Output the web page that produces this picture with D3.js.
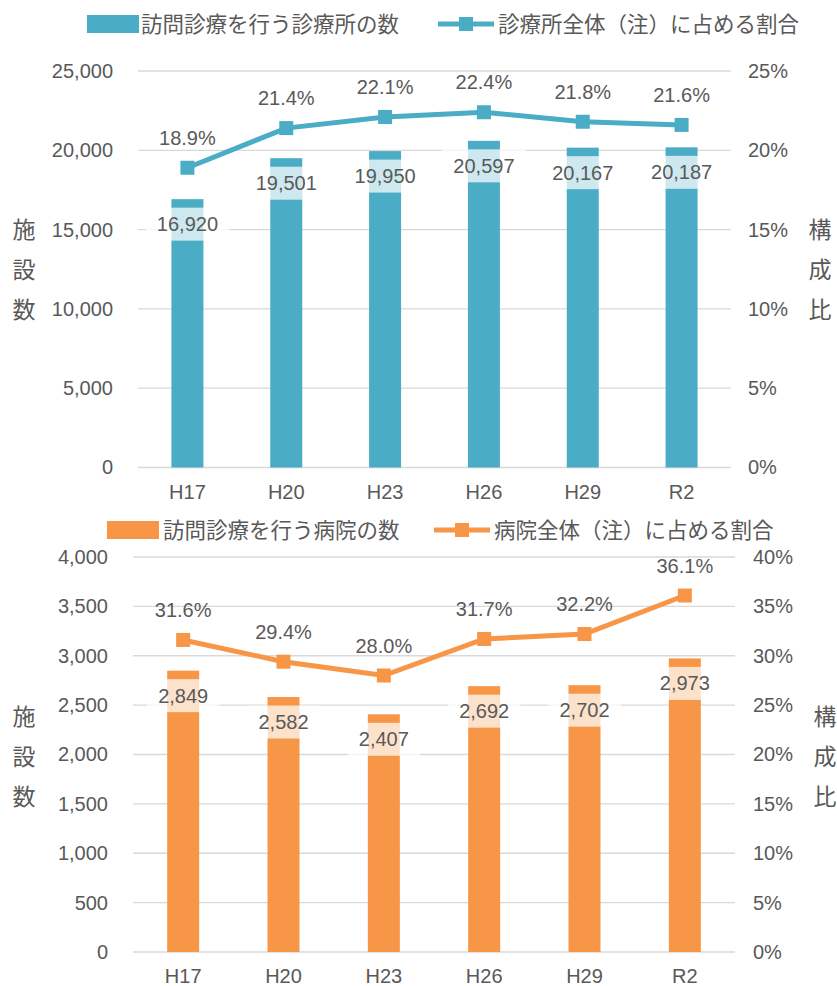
<!DOCTYPE html>
<html>
<head>
<meta charset="utf-8">
<script src="https://cdn.jsdelivr.net/npm/d3@7"></script>
<style>
  body { margin:0; background:#fff; }
  text { fill:#595959; }
</style>
</head>
<body>
<div id="chart"></div>
<script>
// categories / values
var years = ["H17", "H20", "H23", "H26", "H29", "R2"];

var clinicCount = [16920, 19501, 19950, 20597, 20167, 20187];
var clinicShare = [18.9, 21.4, 22.1, 22.4, 21.8, 21.6];

var hospCount = [2849, 2582, 2407, 2692, 2702, 2973];
var hospShare = [31.6, 29.4, 28.0, 31.7, 32.2, 36.1];

var clinicTicks = [0, 5000, 10000, 15000, 20000, 25000];
var clinicPctTicks = [0, 5, 10, 15, 20, 25];
var hospTicks = [0, 500, 1000, 1500, 2000, 2500, 3000, 3500, 4000];
var hospPctTicks = [0, 5, 10, 15, 20, 25, 30, 35, 40];

var numFont = "'Liberation Sans', Arial, sans-serif";
var jpFont = "'Noto Sans CJK JP', sans-serif";

var svg = d3.select("#chart")
            .append("svg")
            .attr("width", 837)
            .attr("height", 986);

var fmt = d3.format(",");

function drawPanel(p) {
    var g = svg.append("g");

    var x = d3.scaleBand().domain(years).range([p.left, p.right]);
    var y = d3.scaleLinear().domain([0, p.yMax]).range([p.bottom, p.top]);
    var y2 = d3.scaleLinear().domain([0, p.pMax]).range([p.bottom, p.top]);

    // gridlines
    g.selectAll(".grid").data(p.ticks).enter()
        .append("line")
        .attr("x1", p.left).attr("x2", p.right)
        .attr("y1", d => y(d)).attr("y2", d => y(d))
        .attr("stroke", "#d9d9d9").attr("stroke-width", 1.3);

    // left axis
    var yAxis = d3.axisLeft(y).tickValues(p.ticks).tickFormat(fmt).tickSize(0).tickPadding(0);
    var ga = g.append("g").attr("transform", "translate(" + p.leftLabelX + ",0)").call(yAxis);
    ga.select(".domain").remove();
    ga.selectAll("text").style("font-family", numFont).style("font-size", "20px").attr("fill", "#595959");

    // right axis
    var y2Axis = d3.axisRight(y2).tickValues(p.pTicks).tickFormat(d => d + "%").tickSize(0).tickPadding(0);
    var gb = g.append("g").attr("transform", "translate(" + p.rightLabelX + ",0)").call(y2Axis);
    gb.select(".domain").remove();
    gb.selectAll("text").style("font-family", numFont).style("font-size", "20px").attr("fill", "#595959");

    // bottom axis labels
    var xAxis = d3.axisBottom(x).tickSize(0).tickPadding(0);
    var gx = g.append("g").attr("transform", "translate(0," + p.xLabelY + ")").call(xAxis);
    gx.select(".domain").remove();
    gx.selectAll("text").attr("dy", "0.35em").style("font-family", numFont).style("font-size", "20px").attr("fill", "#595959");

    var bw = 32;

    // bars
    g.selectAll(".bar").data(p.counts).enter()
        .append("rect")
        .attr("x", (d, i) => x(years[i]) + x.bandwidth() / 2 - bw / 2)
        .attr("y", d => y(d))
        .attr("width", bw)
        .attr("height", d => p.bottom - y(d))
        .attr("fill", p.color);

    // bar labels with light box
    var lab = g.selectAll(".blab").data(p.counts).enter().append("g")
        .attr("transform", (d, i) => "translate(" + (x(years[i]) + x.bandwidth() / 2) + "," + (y(d) + 25) + ")");
    lab.append("rect")
        .attr("x", d => -(fmt(d).length * 11.1 + 17) / 2)
        .attr("y", -16.5)
        .attr("width", d => fmt(d).length * 11.1 + 17)
        .attr("height", 33)
        .attr("fill", "#fff").attr("fill-opacity", 0.72);
    lab.append("text")
        .attr("text-anchor", "middle").attr("dy", "0.35em")
        .style("font-family", numFont).style("font-size", "20px")
        .text(d => fmt(d));

    // share line
    var line = d3.line()
        .x((d, i) => x(years[i]) + x.bandwidth() / 2)
        .y(d => y2(d));
    g.append("path").datum(p.shares)
        .attr("d", line)
        .attr("fill", "none").attr("stroke", p.color).attr("stroke-width", 5);

    g.selectAll(".mk").data(p.shares).enter()
        .append("rect")
        .attr("x", (d, i) => x(years[i]) + x.bandwidth() / 2 - 7)
        .attr("y", d => y2(d) - 7)
        .attr("width", 14).attr("height", 14)
        .attr("fill", p.color);

    g.selectAll(".plab").data(p.shares).enter()
        .append("text")
        .attr("x", (d, i) => x(years[i]) + x.bandwidth() / 2)
        .attr("y", d => y2(d) - 30)
        .attr("text-anchor", "middle").attr("dy", "0.35em")
        .style("font-family", numFont).style("font-size", "20px")
        .text(d => d.toFixed(1) + "%");

    // axis titles, one character per row
    ["施", "設", "数"].forEach(function (c, i) {
        g.append("text").attr("x", p.titleLX).attr("y", p.titleY + i * 40)
            .attr("text-anchor", "middle").attr("dy", "0.35em")
            .style("font-family", jpFont).style("font-size", "23px").text(c);
    });
    ["構", "成", "比"].forEach(function (c, i) {
        g.append("text").attr("x", p.titleRX).attr("y", p.titleY + i * 40)
            .attr("text-anchor", "middle").attr("dy", "0.35em")
            .style("font-family", jpFont).style("font-size", "23px").text(c);
    });

    // legend
    var lg = g.append("g").attr("transform", "translate(0," + p.legendY + ")");
    lg.append("rect").attr("x", p.swX).attr("y", -9).attr("width", 52).attr("height", 18).attr("fill", p.color);
    lg.append("text").attr("x", p.txX).attr("dy", "0.35em")
        .style("font-family", jpFont).style("font-size", "21.5px").text(p.barName);
    lg.append("line").attr("x1", p.lnX).attr("x2", p.lnX + 56)
        .attr("stroke", p.color).attr("stroke-width", 5);
    lg.append("rect").attr("x", p.lnX + 21).attr("y", -7).attr("width", 14).attr("height", 14).attr("fill", p.color);
    lg.append("text").attr("x", p.lnX + 60).attr("dy", "0.35em")
        .style("font-family", jpFont).style("font-size", "21.5px").text(p.lineName);
}

drawPanel({
    counts: clinicCount, shares: clinicShare,
    ticks: clinicTicks, pTicks: clinicPctTicks,
    yMax: 25000, pMax: 25,
    left: 138, right: 731, top: 71, bottom: 467.5,
    leftLabelX: 113, rightLabelX: 748, xLabelY: 492,
    titleLX: 24, titleRX: 820, titleY: 230,
    color: "#4BACC6",
    legendY: 24, swX: 87, txX: 141, lnX: 438,
    barName: "訪問診療を行う診療所の数",
    lineName: "診療所全体（注）に占める割合"
});

drawPanel({
    counts: hospCount, shares: hospShare,
    ticks: hospTicks, pTicks: hospPctTicks,
    yMax: 4000, pMax: 40,
    left: 133, right: 735, top: 557, bottom: 952,
    leftLabelX: 108, rightLabelX: 753, xLabelY: 976,
    titleLX: 24, titleRX: 825, titleY: 717,
    color: "#F79646",
    legendY: 530, swX: 107, txX: 163, lnX: 434,
    barName: "訪問診療を行う病院の数",
    lineName: "病院全体（注）に占める割合"
});
</script>
</body>
</html>
